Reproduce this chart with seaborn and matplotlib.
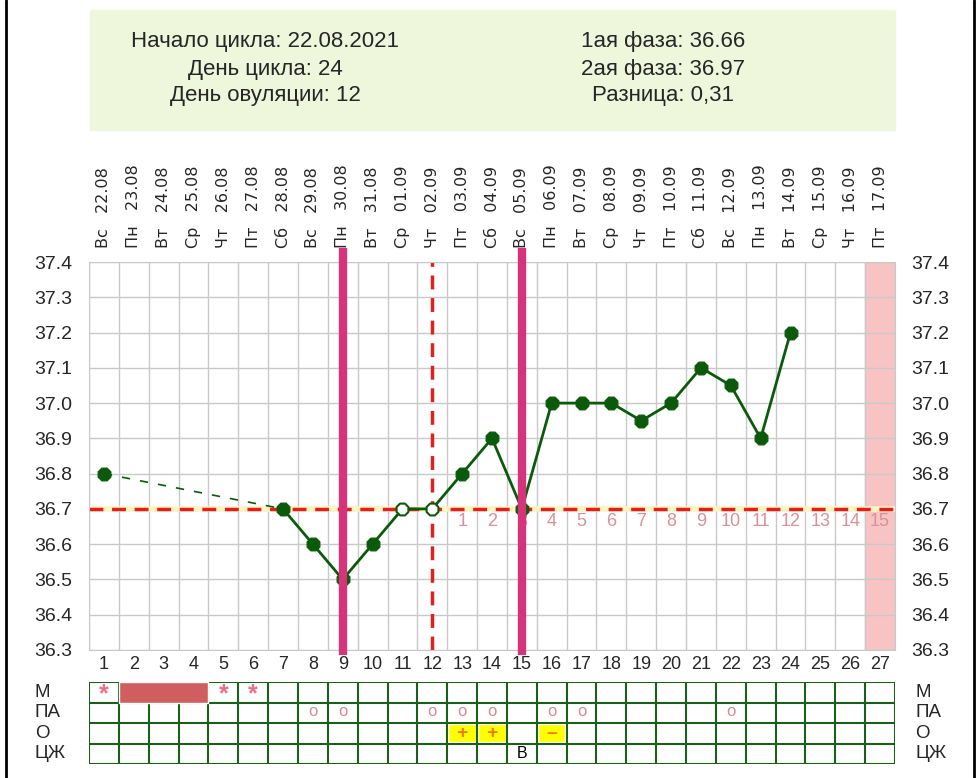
import numpy as np
import pandas as pd
import matplotlib
matplotlib.use("Agg")
import matplotlib.pyplot as plt
import seaborn as sns
from matplotlib.patches import Rectangle
from matplotlib.lines import Line2D

# ------------------------------
# Data
# ------------------------------
days = list(range(1, 28))
weekdays = ["Вс", "Пн", "Вт", "Ср", "Чт", "Пт", "Сб",
            "Вс", "Пн", "Вт", "Ср", "Чт", "Пт", "Сб",
            "Вс", "Пн", "Вт", "Ср", "Чт", "Пт", "Сб",
            "Вс", "Пн", "Вт", "Ср", "Чт", "Пт"]
dates = ["22.08", "23.08", "24.08", "25.08", "26.08", "27.08", "28.08",
         "29.08", "30.08", "31.08", "01.09", "02.09", "03.09", "04.09",
         "05.09", "06.09", "07.09", "08.09", "09.09", "10.09", "11.09",
         "12.09", "13.09", "14.09", "15.09", "16.09", "17.09"]

temp_days = [1, 7, 8, 9, 10, 11, 12, 13, 14, 15, 16, 17, 18, 19, 20, 21, 22, 23, 24]
temps = [36.8, 36.7, 36.6, 36.5, 36.6, 36.7, 36.7, 36.8, 36.9, 36.7,
         37.0, 37.0, 37.0, 36.95, 37.0, 37.1, 37.05, 36.9, 37.2]
hollow_days = [11, 12]

cover_line = 36.7
ovulation_day = 12
marked_days = [9, 15]
phase2_start = 13
phase2_numbers = list(range(1, 16))
expected_day = 27

m_stars = [1, 5, 6]
m_bleed = [2, 3, 4]
pa_days = [8, 9, 12, 13, 14, 16, 17, 22]
o_days = [13, 14, 16]
o_signs = ["+", "+", "–"]
cj_days = [15]
cj_signs = ["В"]
row_names = ["М", "ПА", "О", "ЦЖ"]

info_left = ["Начало цикла: 22.08.2021", "День цикла: 24", "День овуляции: 12"]
info_right = ["1ая фаза: 36.66", "2ая фаза: 36.97", "Разница: 0,31"]

df = pd.DataFrame({"day": temp_days, "temp": temps})

# ------------------------------
# Figure setup
# ------------------------------
sns.set_style("white")
plt.rcParams["font.family"] = ["Liberation Sans", "DejaVu Sans"]

W, H = 980, 778
fig = plt.figure(figsize=(W / 100, H / 100), dpi=100)


def box(x0, y0, x1, y1):
    return [x0 / W, 1 - y1 / H, (x1 - x0) / W, (y1 - y0) / H]


green_dark = "#0b5a0b"
grid_col = "#c9c9c9"
red = "#e0201e"
magenta = "#d6337a"
pink_txt = "#d8909c"

# frame + info box
fig.add_artist(Line2D([6 / W, 6 / W], [0, 1], color="black", lw=2))
fig.add_artist(Line2D([974 / W, 974 / W], [0, 1], color="black", lw=2))
fig.add_artist(Rectangle((90 / W, 1 - 130 / H), 805 / W, 120 / H,
                         transform=fig.transFigure, color="#eef7dc", zorder=0))
for i, t in enumerate(info_left):
    fig.text(265 / W, 1 - (42 + 27 * i) / H, t, ha="center", va="center", fontsize=16)
for i, t in enumerate(info_right):
    fig.text(663 / W, 1 - (42 + 27 * i) / H, t, ha="center", va="center", fontsize=16)

# ------------------------------
# Temperature chart
# ------------------------------
ax = fig.add_axes(box(89, 262, 895, 650))
ax.set_xlim(0.5, 27.5)
ax.set_ylim(36.3, 37.4)

ax.axvspan(expected_day - 0.5, expected_day + 0.5, color="#f8c3c3", zorder=0.5)

yt = np.round(np.arange(36.3, 37.41, 0.1), 1)
ax.set_yticks(yt)
ax.set_yticklabels([f"{v:.1f}" for v in yt])
ax.set_xticks(days)
ax.set_xticklabels([str(d) for d in days])
ax.set_xticks(np.arange(0.5, 28, 1), minor=True)
ax.grid(which="minor", axis="x", color=grid_col, lw=1)
ax.grid(which="major", axis="y", color=grid_col, lw=1)
ax.grid(which="major", axis="x", visible=False)
ax.tick_params(axis="both", which="both", length=0)
ax.tick_params(axis="y", labelsize=14, pad=12, labelright=True)
ax.tick_params(axis="x", labelsize=13, pad=4)
for s in ax.spines.values():
    s.set_color(grid_col)
ax.set_axisbelow(True)

# top date labels
sec = ax.secondary_xaxis("top")
sec.set_xticks(days)
sec.set_xticklabels([f"{w}   {d}" for w, d in zip(weekdays, dates)], rotation=90,
                    family="DejaVu Sans")
sec.tick_params(length=0, pad=10, labelsize=11.5)
sec.spines["top"].set_visible(False)

# coverline and ovulation line
ax.axhline(cover_line, color="#fff3c0", lw=4, zorder=2)
ax.axhline(cover_line, color=red, lw=2.5, ls=(0, (4, 2.5)), zorder=2.1)
ax.axvline(ovulation_day, color=red, lw=2.5, ls=(0, (4, 2.5)), zorder=2.1)

# temperature line
first = df[df["day"] <= 7]
rest = df[df["day"] >= 7]
sns.lineplot(data=first, x="day", y="temp", ax=ax, color=green_dark, lw=1.2,
             linestyle=(0, (5, 6)), zorder=3)
sns.lineplot(data=rest, x="day", y="temp", ax=ax, color=green_dark, lw=2, zorder=3)
filled = df[~df["day"].isin(hollow_days)]
hollow = df[df["day"].isin(hollow_days)]
sns.scatterplot(data=filled, x="day", y="temp", ax=ax, color=green_dark, marker="8",
                s=100, edgecolor=green_dark, zorder=4)
sns.scatterplot(data=hollow, x="day", y="temp", ax=ax, color="white", marker="8",
                s=85, edgecolor=green_dark, linewidth=1.5, zorder=4)
ax.set_xlabel("")
ax.set_ylabel("")

# phase 2 counters
for k, n in enumerate(phase2_numbers):
    ax.text(phase2_start + k, 36.665, str(n), ha="center", va="center",
            fontsize=13, color=pink_txt, zorder=3)

# marked days
for d in marked_days:
    ln = ax.axvline(d, ymin=-0.014, ymax=1.036, color=magenta, lw=6, clip_on=False,
                    zorder=5)
    ln.set_solid_capstyle("butt")

# ------------------------------
# Observation table
# ------------------------------
axt = fig.add_axes(box(89, 682, 895, 764))
axt.set_xlim(0.5, 27.5)
axt.set_ylim(4, 0)
axt.axis("off")

tbl_col = "#1a5f1a"
axt.barh(y=[2.5, 2.5, 2.5], width=0.92, left=[d - 0.46 for d in o_days],
         height=0.88, color="#ffff00", zorder=1)
axt.vlines(np.arange(0.5, 28, 1), 0, 4, color=tbl_col, lw=1.5, zorder=2)
axt.hlines(np.arange(0, 5, 1), 0.5, 27.5, color=tbl_col, lw=1.5, zorder=2)
axt.barh(y=0.5, width=len(m_bleed), left=m_bleed[0] - 0.5, height=1,
         color="#d15e5e", zorder=3)

for d in m_stars:
    axt.text(d, 0.6, "*", ha="center", va="center", fontsize=18, color="#e8708c",
             fontweight="bold")
for d in pa_days:
    axt.text(d, 1.45, "o", ha="center", va="center", fontsize=12, color="#d48a98")
for d, s in zip(o_days, o_signs):
    axt.text(d, 2.5, s, ha="center", va="center", fontsize=14, color="#f07800",
             fontweight="bold")
for d, s in zip(cj_days, cj_signs):
    axt.text(d, 3.5, s, ha="center", va="center", fontsize=11.5, color="black")

for i, name in enumerate(row_names):
    axt.text(-1.31, i + 0.5, name, ha="left", va="center", fontsize=13.5)
    axt.text(28.17, i + 0.5, name, ha="left", va="center", fontsize=13.5)

fig.savefig("out.png", dpi=100)
